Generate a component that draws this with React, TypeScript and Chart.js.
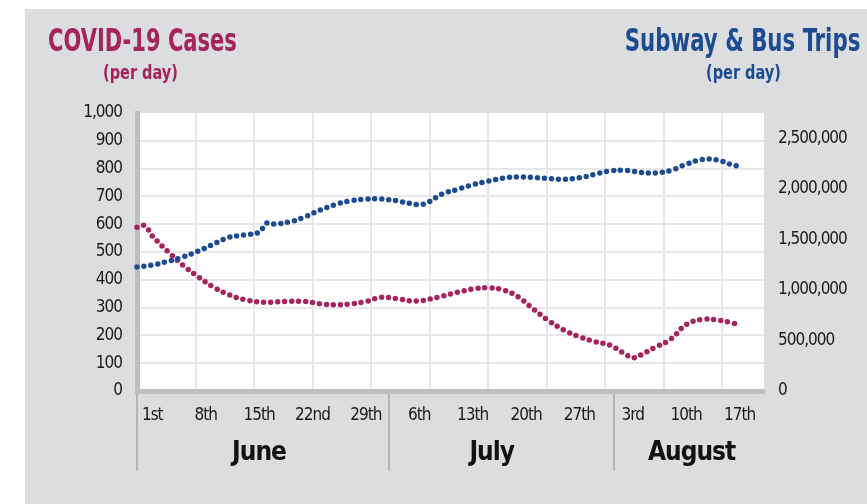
import React, { useEffect, useRef } from 'react';
import { Chart, registerables } from 'chart.js';

Chart.register(...registerables);

// ---- data (June 1 = day 0) ----
const days = [-2, -1, 0, 2, 4, 6, 8, 10, 12, 14, 15, 16, 18, 20, 22, 24, 26, 28, 30, 32, 34, 35, 36, 38, 40, 42, 44, 46, 48, 50, 52, 54, 56, 58, 60, 62, 63, 64, 66, 68, 70, 72, 74, 76, 77];
const covidCases = [589, 595, 558, 503, 453, 411, 374, 347, 329, 320, 319, 320, 323, 322, 314, 310, 313, 322, 337, 332, 324, 324, 328, 341, 355, 367, 371, 364, 338, 294, 252, 219, 195, 178, 165, 133, 119, 129, 158, 187, 239, 257, 256, 245, 237];
const transitTrips = [1227000, 1236000, 1246000, 1281000, 1325000, 1383000, 1451000, 1519000, 1543000, 1571000, 1660000, 1653000, 1673000, 1721000, 1790000, 1844000, 1882000, 1898000, 1899000, 1882000, 1852000, 1843000, 1860000, 1948000, 1994000, 2041000, 2076000, 2106000, 2117000, 2112000, 2102000, 2095000, 2109000, 2144000, 2176000, 2182000, 2173000, 2162000, 2157000, 2183000, 2243000, 2288000, 2287000, 2238000, 2221000];

const dayTickDays = [0, 7, 14, 21, 28, 35, 42, 49, 56, 63, 70, 77];
const dayTickLabels = ['1st', '8th', '15th', '22nd', '29th', '6th', '13th', '20th', '27th', '3rd', '10th', '17th'];
const monthLabels = ['June', 'July', 'August'];
const monthLabelDays = [14, 44.5, 70.7];
const monthBoundaryDays = [-2, 31, 60.5];
const tripTicks = [0, 500000, 1000000, 1500000, 2000000, 2500000];

// ---- style ----
const RED = '#a6235b';
const BLUE = '#1c4b92';
const GRAY = '#dcdddf';
const BAR = '#bdbec0';
const GRID = '#e7e7e8';
const NARROW = '"DejaVu Sans Condensed", "Liberation Sans Narrow", sans-serif';
const X_MIN = -2;
const X_MAX = 80.2;
const GRID_STEP = 7.67;

const plotBg = {
  id: 'plotBg',
  beforeDraw(chart: any) {
    const { ctx, chartArea: a } = chart;
    ctx.save();
    ctx.fillStyle = '#ffffff';
    ctx.fillRect(a.left, a.top, a.right - a.left, a.bottom - a.top);
    ctx.restore();
    try { (ctx as any).letterSpacing = '-1px'; } catch (e) { /* ignore */ }
  },
};

export default function App() {
  const ref = useRef<HTMLCanvasElement>(null);

  useEffect(() => {
    const fmt = (v: any) => Number(v).toLocaleString('en-US');
    const tickFont = { family: NARROW, size: 17 };
    const lineStyle = {
      borderWidth: 5.5,
      borderDash: [0, 7],
      borderCapStyle: 'round',
      borderJoinStyle: 'round',
      pointRadius: 0,
      tension: 0.4,
      fill: false,
      clip: false,
    };
    const chart = new Chart(ref.current!, {
      type: 'line',
      data: {
        datasets: [
          {
            label: 'Subway & Bus Trips',
            data: days.map((d, i) => ({ x: d, y: transitTrips[i] })),
            xAxisID: 'x',
            yAxisID: 'y1',
            borderColor: BLUE,
            ...lineStyle,
          } as any,
          {
            label: 'COVID-19 Cases',
            data: days.map((d, i) => ({ x: d, y: covidCases[i] })),
            xAxisID: 'x',
            yAxisID: 'y',
            borderColor: RED,
            ...lineStyle,
          } as any,
        ],
      },
      options: {
        responsive: false,
        animation: false,
        devicePixelRatio: 1,
        layout: { padding: { top: 104, left: 0, right: 0, bottom: 0 } },
        plugins: { legend: { display: false }, tooltip: { enabled: false }, title: { display: false } },
        scales: {
          xg: {
            type: 'linear',
            position: 'top',
            min: X_MIN,
            max: X_MAX,
            z: -1,
            afterBuildTicks: (s: any) => {
              const t = [];
              for (let k = 1; k <= 10; k++) t.push({ value: X_MIN + k * GRID_STEP });
              s.ticks = t;
            },
            afterFit: (s: any) => { s.height = 0; },
            ticks: { display: false },
            grid: { color: GRID, lineWidth: 2, drawTicks: false },
            border: { display: false },
          },
          x: {
            type: 'linear',
            position: 'bottom',
            min: X_MIN,
            max: X_MAX,
            weight: 1,
            afterBuildTicks: (s: any) => {
              s.ticks = [...dayTickDays, ...monthBoundaryDays].map((v) => ({ value: v }));
            },
            afterFit: (s: any) => { s.height = 38; },
            ticks: {
              autoSkip: false,
              maxRotation: 0,
              padding: -66,
              color: '#1a1a1a',
              font: tickFont,
              callback: (v: any) => {
                const i = dayTickDays.indexOf(Number(v));
                return i >= 0 ? dayTickLabels[i] : '';
              },
            },
            grid: {
              display: true,
              drawOnChartArea: false,
              drawTicks: true,
              tickLength: 80,
              lineWidth: 2,
              color: (ctx: any) => (ctx.tick && monthBoundaryDays.includes(ctx.tick.value) ? '#b4b5b7' : 'rgba(0,0,0,0)'),
            },
            border: { display: true, color: BAR, width: 5 },
          },
          xm: {
            type: 'linear',
            position: 'bottom',
            min: X_MIN,
            max: X_MAX,
            weight: 2,
            afterBuildTicks: (s: any) => {
              s.ticks = monthLabelDays.map((v) => ({ value: v }));
            },
            afterFit: (s: any) => { s.height = 75; },
            ticks: {
              autoSkip: false,
              maxRotation: 0,
              padding: 9,
              color: '#111111',
              font: { family: NARROW, size: 26, weight: 'bold' },
              callback: (v: any) => {
                const i = monthLabelDays.indexOf(Number(v));
                return i >= 0 ? monthLabels[i] : '';
              },
            },
            grid: { display: false, drawTicks: false },
            border: { display: false },
          },
          y: {
            type: 'linear',
            position: 'left',
            min: 0,
            max: 1000,
            afterFit: (s: any) => { s.width = 112; },
            ticks: {
              stepSize: 100,
              padding: 15,
              color: '#1a1a1a',
              font: tickFont,
              callback: fmt,
            },
            grid: {
              lineWidth: 2,
              drawTicks: false,
              color: (ctx: any) => (ctx.tick && (ctx.tick.value === 0 || ctx.tick.value === 1000) ? 'rgba(0,0,0,0)' : GRID),
            },
            border: { display: true, color: BAR, width: 5 },
          },
          y1: {
            type: 'linear',
            position: 'right',
            min: 0,
            max: 2750000,
            afterBuildTicks: (s: any) => {
              s.ticks = tripTicks.map((v) => ({ value: v }));
            },
            afterFit: (s: any) => { s.width = 103; },
            ticks: {
              padding: 14,
              color: '#1a1a1a',
              font: tickFont,
              callback: fmt,
            },
            grid: { display: false, drawTicks: false },
            border: { display: false },
          },
        },
      } as any,
      plugins: [plotBg],
    });
    return () => chart.destroy();
  }, []);

  const titleBase: React.CSSProperties = {
    position: 'absolute',
    fontFamily: NARROW,
    fontWeight: 'bold',
    lineHeight: '1',
    whiteSpace: 'nowrap',
  };

  return (
    <div style={{ position: 'absolute', left: 0, top: 0, width: 867, height: 504, background: '#ffffff', overflow: 'hidden' }}>
      <div style={{ position: 'absolute', left: 25, top: 9, width: 842, height: 495, background: GRAY }} />
      <canvas
        ref={ref}
        width={842}
        height={495}
        style={{ position: 'absolute', left: 25, top: 9, width: 842, height: 495 }}
      />
      <div style={{ ...titleBase, left: 48, top: 24, fontSize: 32, color: RED, transform: 'scaleX(0.73)', transformOrigin: 'left top' }}>
        COVID-19 Cases
      </div>
      <div style={{ ...titleBase, left: 103, top: 63, fontSize: 19, color: RED, transform: 'scaleX(0.85)', transformOrigin: 'left top' }}>(per day)</div>
      <div style={{ ...titleBase, right: 7, top: 24, fontSize: 32, color: BLUE, transform: 'scaleX(0.74)', transformOrigin: 'right top' }}>
        Subway &amp; Bus Trips
      </div>
      <div style={{ ...titleBase, left: 706, top: 63, fontSize: 19, color: BLUE, transform: 'scaleX(0.85)', transformOrigin: 'left top' }}>(per day)</div>
    </div>
  );
}
